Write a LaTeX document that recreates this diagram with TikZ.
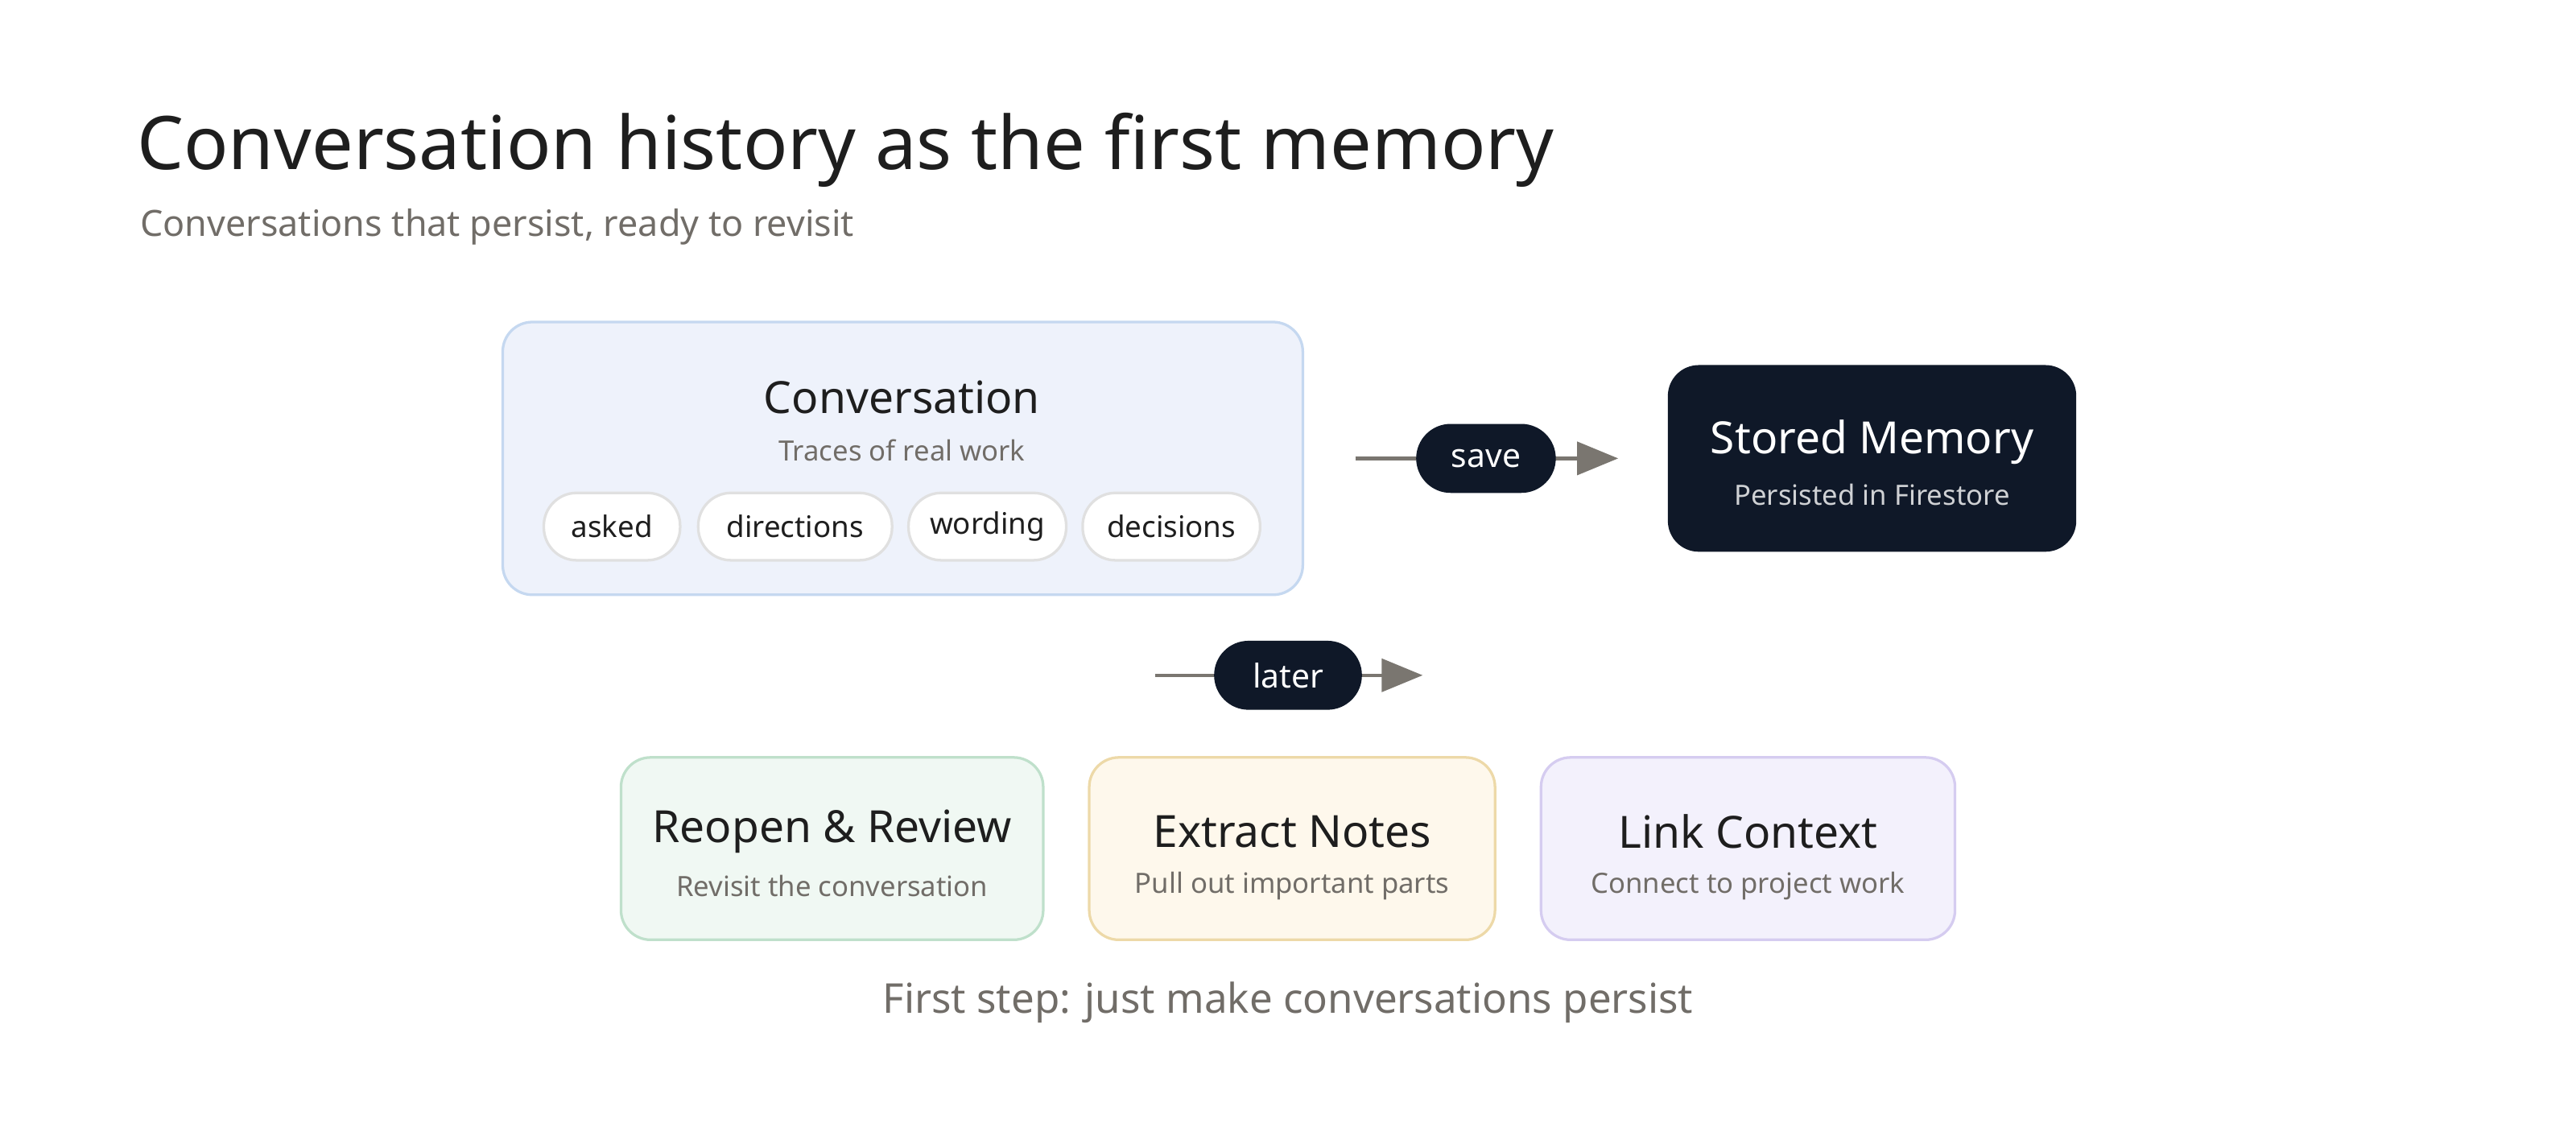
\documentclass[tikz,border=0pt]{standalone}
\usepackage{fontspec}
\setmainfont{Noto Sans}
\usetikzlibrary{arrows.meta}
\definecolor{ink}{HTML}{1E1E1E}
\definecolor{muted}{HTML}{716D68}
\definecolor{navy}{HTML}{0F1828}
\definecolor{arr}{HTML}{7A7670}
\begin{document}
\begin{tikzpicture}[x=0.5pt,y=-0.5pt,
  card/.style={rounded corners=9pt,line width=0.8pt},
  pill/.style={draw=black!12,fill=white,line width=0.8pt,rounded corners=10pt,minimum height=20.5pt,inner sep=0pt,font=\fontsize{9}{10}\selectfont\bfseries,text=ink},
  dpill/.style={fill=navy,rounded corners=10.5pt,minimum height=21pt,inner sep=0pt,font=\fontsize{10}{11}\selectfont\bfseries,text=white},
  ttl/.style={font=\fontsize{13.5}{15}\selectfont\bfseries,text=ink},
  sub/.style={font=\fontsize{8.5}{10}\selectfont,text=muted},
  conn/.style={draw=arr,line width=1.1pt,-{Triangle[length=12.5pt,width=10pt]}}]
\useasboundingbox (0,0) rectangle (1568,696);
\node[anchor=base west,inner sep=0pt,font=\fontsize{22.5}{26}\selectfont\bfseries,text=ink] (title) at (83,103) {Conversation history as the first memory};
\node[anchor=base west,inner sep=0pt,font=\fontsize{11}{13}\selectfont,text=muted] (subtitle) at (85,144) {Conversations that persist, ready to revisit};
% conversation
\draw[card,fill={rgb,255:red,238;green,242;blue,251},draw={rgb,255:red,197;green,216;blue,240}] (306,196) rectangle (793,362);
\node[ttl] (conv) at (549,242) {Conversation};
\node[sub] (convs) at (549,274) {Traces of real work};
\node[pill,minimum width=41.5pt] (p1) at (372.5,320.5) {asked};
\node[pill,minimum width=59pt] (p2) at (484,320.5) {directions};
\node[pill,minimum width=48pt] (p3) at (601,320.5) {wording};
\node[pill,minimum width=54pt] (p4) at (713,320.5) {decisions};
% stored
\draw[card,fill=navy,draw=navy] (1016,223) rectangle (1263,335);
\node[ttl,text=white] (mem) at (1139.5,269) {Stored Memory};
\node[sub,text=white!80!navy] (mems) at (1139.5,301) {Persisted in Firestore};
% arrows
\coordinate (s0) at (825,279); \coordinate (s1) at (985,279);
\draw[conn] (s0) -- (s1);
\node[dpill,minimum width=42.5pt] (save) at (904.5,279) {save};
\coordinate (l0) at (703,411); \coordinate (l1) at (866,411);
\draw[conn] (l0) -- (l1);
\node[dpill,minimum width=45pt] (later) at (784,411) {later};
% bottom
\draw[card,fill={rgb,255:red,240;green,248;blue,243},draw={rgb,255:red,191;green,224;blue,203}] (378,461) rectangle (635,572);
\node[ttl] (r1) at (506.5,506) {Reopen \& Review};
\node[sub] (r1s) at (506.5,539) {Revisit the conversation};
\draw[card,fill={rgb,255:red,254;green,248;blue,236},draw={rgb,255:red,237;green,217;blue,168}] (663,461) rectangle (910,572);
\node[ttl] (r2) at (786.5,506) {Extract Notes};
\node[sub] (r2s) at (786.5,539) {Pull out important parts};
\draw[card,fill={rgb,255:red,243;green,241;blue,252},draw={rgb,255:red,213;green,204;blue,240}] (938,461) rectangle (1190,572);
\node[ttl] (r3) at (1064,506) {Link Context};
\node[sub] (r3s) at (1064,539) {Connect to project work};
\node[font=\fontsize{12.5}{14}\selectfont\bfseries,text=muted] (foot) at (784,610) {First step: just make conversations persist};
\end{tikzpicture}
\end{document}
